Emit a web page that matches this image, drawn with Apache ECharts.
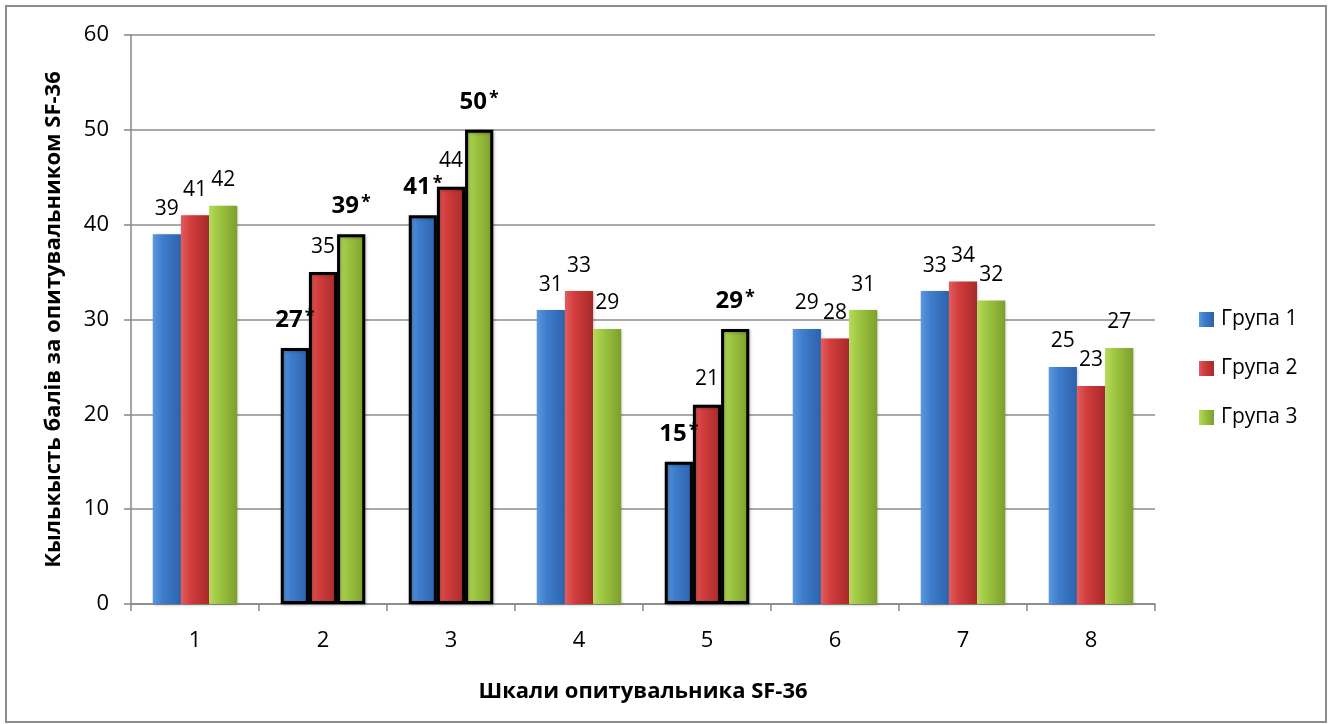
<!DOCTYPE html>
<html>
<head>
<meta charset="utf-8">
<script src="https://cdn.jsdelivr.net/npm/echarts@6/dist/echarts.min.js"></script>
<style>
html,body{margin:0;padding:0;background:#fff;}
#chart{width:1332px;height:724px;}
</style>
</head>
<body>
<div id="chart"></div>
<script>
const categories = ['1','2','3','4','5','6','7','8'];
const seriesNames = ['Група 1','Група 2','Група 3'];
const group1 = [39, 27, 41, 31, 15, 29, 33, 25];
const group2 = [41, 35, 44, 33, 21, 28, 34, 23];
const group3 = [42, 39, 50, 29, 29, 31, 32, 27];
// categories whose bars are outlined in black
const outlinedCats = [1, 2, 4];
// values marked with asterisk (significant), per series
const starred1 = [false, true, true, false, true, false, false, false];
const starred2 = [false, false, false, false, false, false, false, false];
const starred3 = [false, true, true, false, true, false, false, false];
const yTicks = {min: 0, max: 60, interval: 10};

const FONT = '"Open Sans", "Noto Sans", sans-serif';

const palette = [
  ['#5b98e0', '#3f7dcc', '#2d62ab'],
  ['#e45c5c', '#d23c3c', '#a82a2a'],
  ['#b6da5c', '#9ec640', '#7e9f2c']
];

function grad(c) {
  return new echarts.graphic.LinearGradient(0, 0, 1, 0, [
    {offset: 0, color: c[0]},
    {offset: 0.35, color: c[1]},
    {offset: 1, color: c[2]}
  ]);
}

function buildSeries(name, values, starred, idx) {
  return {
    name: name,
    type: 'bar',
    barGap: '0%',
    barCategoryGap: '34%',
    itemStyle: {color: grad(palette[idx]), shadowColor: 'rgba(0,0,0,0.25)', shadowBlur: 3, shadowOffsetX: 1, shadowOffsetY: 1},
    data: values.map((v, i) => {
      const d = {value: v};
      if (outlinedCats.includes(i)) {
        d.itemStyle = {borderColor: '#000', borderWidth: 3};
      }
      if (starred[i]) {
        d.label = {formatter: '{b|{c}}{s|*}', distance: 16};
      }
      return d;
    }),
    label: {
      show: true,
      position: 'top',
      distance: 15,
      color: '#000',
      fontFamily: FONT,
      fontSize: 21,
      rich: {
        b: {fontFamily: FONT, fontSize: 24, fontWeight: 'bold', color: '#000'},
        s: {fontFamily: FONT, fontSize: 18, fontWeight: 'bold', color: '#000', verticalAlign: 'top', padding: [0,0,6,2]}
      }
    }
  };
}

const chart = echarts.init(document.getElementById('chart'), null, {renderer: 'canvas'});
chart.setOption({
  animation: false,
  backgroundColor: '#fff',
  textStyle: {fontFamily: FONT},
  graphic: [{
    type: 'rect',
    shape: {x: 6, y: 6, width: 1320, height: 716},
    style: {fill: 'none', stroke: '#8c8c8c', lineWidth: 2},
    silent: true
  }],
  legend: {
    orient: 'vertical',
    left: 1194,
    top: 304,
    itemWidth: 15,
    itemHeight: 15,
    itemGap: 28,
    icon: 'rect',
    textStyle: {fontFamily: FONT, fontSize: 21, color: '#000', padding: [0,0,0,2]},
    data: seriesNames
  },
  grid: {left: 131, top: 35, right: 177, bottom: 120, containLabel: false},
  xAxis: {
    type: 'category',
    data: categories,
    name: 'Шкали опитувальника SF-36',
    nameLocation: 'middle',
    nameGap: 77,
    nameTextStyle: {fontFamily: FONT, fontSize: 22, fontWeight: 'bold', color: '#000'},
    axisLine: {lineStyle: {color: '#868686', width: 1.5}},
    axisTick: {show: true, length: 7, lineStyle: {color: '#868686', width: 1.5}},
    axisLabel: {fontFamily: FONT, fontSize: 22, color: '#000', margin: 26}
  },
  yAxis: {
    type: 'value',
    min: yTicks.min,
    max: yTicks.max,
    interval: yTicks.interval,
    name: 'Кылькысть балів за опитувальником SF-36',
    nameLocation: 'middle',
    nameGap: 66,
    nameTextStyle: {fontFamily: FONT, fontSize: 22, fontWeight: 'bold', color: '#000'},
    axisLine: {show: true, lineStyle: {color: '#868686', width: 1.5}},
    axisTick: {show: true, length: 7, lineStyle: {color: '#868686', width: 1.5}},
    splitLine: {show: true, lineStyle: {color: '#8c8c8c', width: 1.5}},
    axisLabel: {fontFamily: FONT, fontSize: 22, color: '#000', margin: 22}
  },
  series: [
    buildSeries(seriesNames[0], group1, starred1, 0),
    buildSeries(seriesNames[1], group2, starred2, 1),
    buildSeries(seriesNames[2], group3, starred3, 2)
  ]
});
</script>
</body>
</html>
